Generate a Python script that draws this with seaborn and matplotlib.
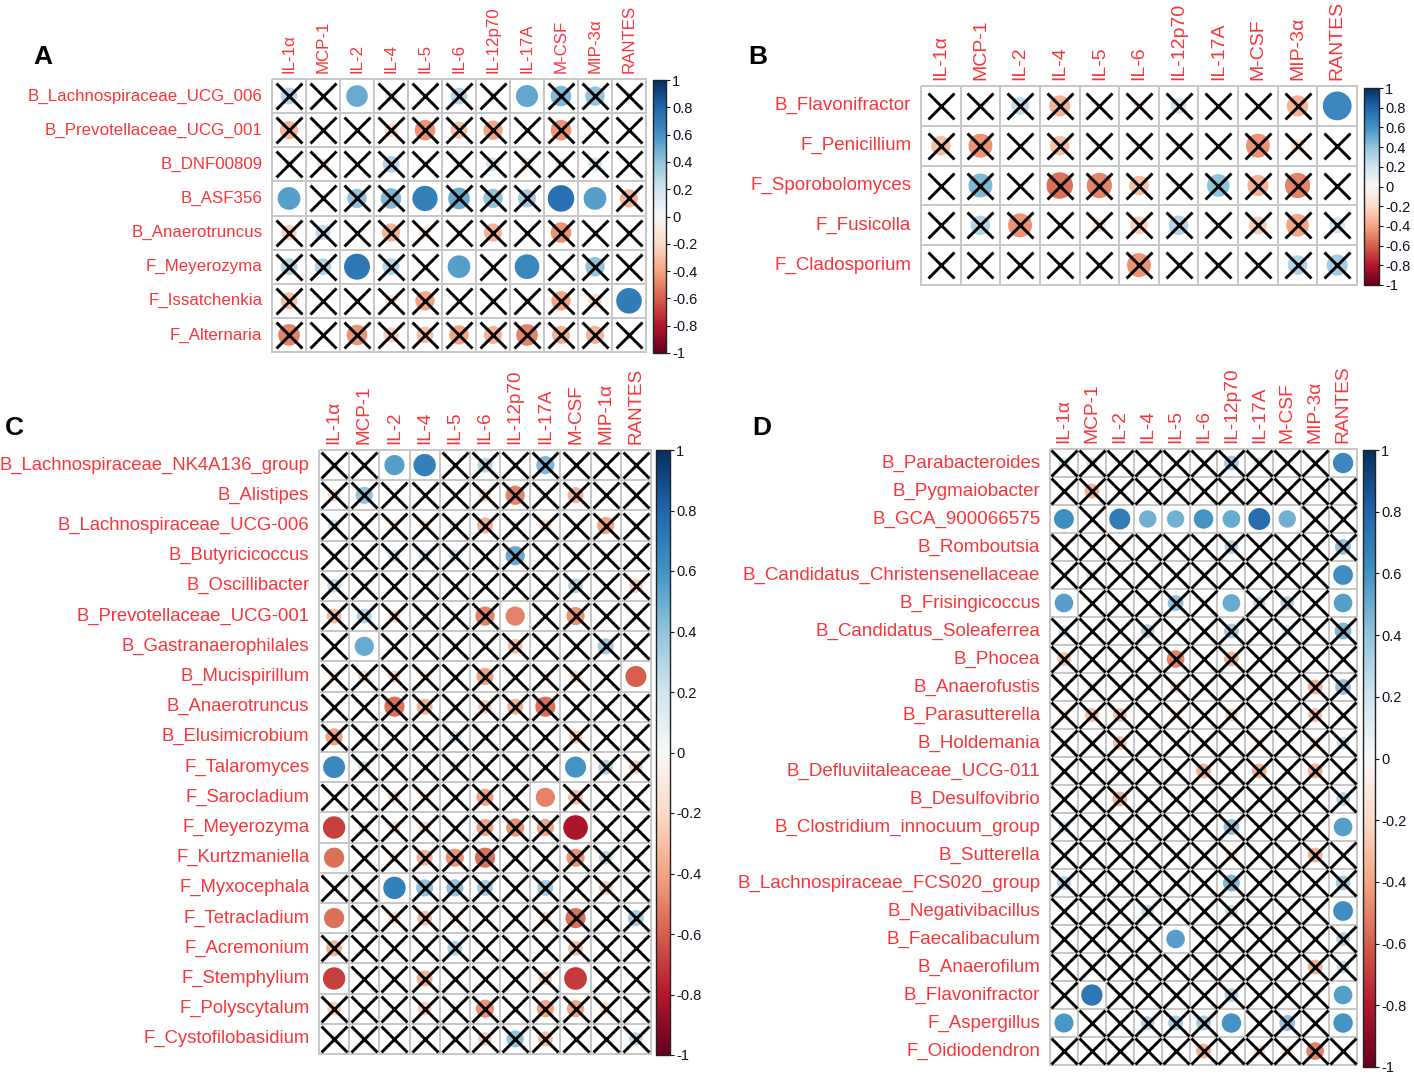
import numpy as np
import pandas as pd
import matplotlib
matplotlib.use("Agg")
import matplotlib.pyplot as plt
import seaborn as sns
from matplotlib.colors import ListedColormap, Normalize
from matplotlib.patches import Ellipse
import matplotlib.colorbar as mcolorbar

# ---------------- DATA ----------------
cytokines_a = ["IL-1α", "MCP-1", "IL-2", "IL-4", "IL-5", "IL-6", "IL-12p70", "IL-17A", "M-CSF", "MIP-3α", "RANTES"]
cytokines_c = ["IL-1α", "MCP-1", "IL-2", "IL-4", "IL-5", "IL-6", "IL-12p70", "IL-17A", "M-CSF", "MIP-1α", "RANTES"]

rows_a = ["B_Lachnospiraceae_UCG_006", "B_Prevotellaceae_UCG_001", "B_DNF00809", "B_ASF356",
          "B_Anaerotruncus", "F_Meyerozyma", "F_Issatchenkia", "F_Alternaria"]
vals_a = [
    [0.30, 0.00, 0.50, 0.15, 0.00, 0.30, 0.10, 0.52, 0.45, 0.40, -0.10],
    [-0.35, 0.10, 0.00, -0.20, -0.45, -0.30, -0.40, 0.00, -0.45, 0.00, 0.00],
    [0.10, -0.15, 0.00, 0.30, 0.00, 0.10, 0.20, -0.15, 0.15, 0.20, 0.00],
    [0.55, 0.00, 0.40, 0.45, 0.68, 0.50, 0.40, 0.35, 0.75, 0.55, -0.35],
    [-0.25, 0.25, 0.00, -0.35, -0.15, 0.00, -0.35, 0.00, -0.45, 0.00, 0.10],
    [0.30, 0.30, 0.72, 0.30, 0.00, 0.55, 0.00, 0.65, 0.00, 0.40, 0.00],
    [-0.30, 0.00, 0.00, -0.15, -0.40, 0.00, -0.10, -0.10, -0.40, -0.20, 0.70],
    [-0.50, 0.00, -0.45, -0.25, -0.30, -0.40, -0.35, -0.50, -0.35, -0.35, 0.10],
]
sig_a = [(0, 2), (0, 7), (3, 0), (3, 4), (3, 8), (3, 9), (5, 2), (5, 5), (5, 7), (6, 10)]

rows_b = ["B_Flavonifractor", "F_Penicillium", "F_Sporobolomyces", "F_Fusicolla", "F_Cladosporium"]
vals_b = [
    [0.00, 0.10, 0.25, -0.35, 0.00, -0.10, 0.20, 0.00, 0.00, -0.35, 0.65],
    [-0.30, -0.45, 0.00, -0.30, 0.00, 0.00, 0.05, 0.00, -0.45, -0.15, 0.00],
    [0.00, 0.45, 0.00, -0.55, -0.50, -0.30, 0.00, 0.40, -0.35, -0.50, 0.00],
    [0.00, 0.30, -0.45, 0.00, -0.15, -0.25, 0.30, 0.00, -0.25, -0.40, 0.20],
    [0.05, 0.00, 0.00, 0.00, 0.00, -0.45, 0.00, -0.05, 0.00, 0.30, 0.35],
]
sig_b = [(0, 10)]

rows_c = ["B_Lachnospiraceae_NK4A136_group", "B_Alistipes", "B_Lachnospiraceae_UCG-006", "B_Butyricicoccus",
          "B_Oscillibacter", "B_Prevotellaceae_UCG-001", "B_Gastranaerophilales", "B_Mucispirillum",
          "B_Anaerotruncus", "B_Elusimicrobium", "F_Talaromyces", "F_Sarocladium", "F_Meyerozyma",
          "F_Kurtzmaniella", "F_Myxocephala", "F_Tetracladium", "F_Acremonium", "F_Stemphylium",
          "F_Polyscytalum", "F_Cystofilobasidium"]
vals_c = [
    [-0.15, 0.00, 0.55, 0.68, 0.00, 0.30, 0.00, 0.45, 0.00, 0.00, 0.00],
    [-0.20, 0.40, 0.00, -0.05, 0.00, -0.20, -0.50, -0.15, -0.35, 0.00, 0.00],
    [0.20, 0.00, -0.15, -0.15, 0.15, -0.35, -0.10, -0.20, 0.00, -0.40, 0.00],
    [0.00, 0.00, 0.20, 0.20, 0.20, 0.00, 0.50, 0.00, 0.10, 0.00, 0.00],
    [0.25, 0.10, 0.00, 0.00, 0.00, 0.00, 0.00, 0.00, 0.30, 0.05, -0.25],
    [-0.30, 0.30, -0.20, -0.10, 0.00, -0.50, -0.50, 0.00, -0.45, 0.00, -0.10],
    [0.00, 0.50, 0.00, 0.00, 0.00, -0.10, -0.30, 0.00, 0.00, 0.35, 0.00],
    [-0.15, -0.20, -0.20, -0.15, 0.00, -0.40, 0.00, -0.15, -0.20, 0.00, -0.60],
    [0.00, 0.00, -0.55, -0.35, 0.00, -0.25, -0.35, -0.55, 0.00, 0.00, 0.00],
    [-0.40, 0.10, 0.00, 0.00, 0.20, -0.10, 0.00, 0.00, -0.25, 0.00, -0.05],
    [0.65, 0.20, 0.00, 0.00, 0.15, 0.00, 0.00, 0.00, 0.60, 0.30, -0.25],
    [-0.05, 0.00, -0.20, -0.15, 0.00, -0.40, 0.00, -0.50, -0.30, 0.00, 0.00],
    [-0.68, 0.15, -0.20, -0.20, 0.00, -0.40, -0.45, -0.40, -0.82, 0.00, 0.00],
    [-0.55, 0.00, -0.15, -0.35, -0.45, -0.55, -0.10, -0.10, -0.45, 0.25, 0.00],
    [0.00, 0.15, 0.68, 0.40, 0.40, 0.35, 0.00, 0.35, 0.00, -0.25, 0.00],
    [-0.55, 0.10, -0.20, -0.30, -0.15, 0.00, 0.00, -0.20, -0.55, 0.00, 0.35],
    [-0.35, 0.00, 0.00, 0.00, 0.30, 0.00, 0.00, 0.00, -0.30, 0.00, 0.00],
    [-0.68, 0.00, -0.10, -0.35, 0.00, 0.00, 0.00, -0.25, -0.70, 0.00, 0.00],
    [-0.25, 0.00, 0.00, -0.25, 0.15, -0.45, 0.00, -0.40, -0.40, -0.20, 0.00],
    [-0.10, 0.15, 0.00, 0.00, 0.10, -0.25, 0.40, -0.30, -0.10, 0.00, 0.25],
]
sig_c = [(0, 2), (0, 3), (5, 6), (6, 1), (7, 10), (10, 0), (10, 8), (11, 7), (12, 0), (12, 8),
         (13, 0), (14, 2), (15, 0), (17, 0), (17, 8)]

rows_d = ["B_Parabacteroides", "B_Pygmaiobacter", "B_GCA_900066575", "B_Romboutsia",
          "B_Candidatus_Christensenellaceae", "B_Frisingicoccus", "B_Candidatus_Soleaferrea", "B_Phocea",
          "B_Anaerofustis", "B_Parasutterella", "B_Holdemania", "B_Defluviitaleaceae_UCG-011",
          "B_Desulfovibrio", "B_Clostridium_innocuum_group", "B_Sutterella", "B_Lachnospiraceae_FCS020_group",
          "B_Negativibacillus", "B_Faecalibaculum", "B_Anaerofilum", "B_Flavonifractor", "F_Aspergillus",
          "F_Oidiodendron"]
vals_d = [
    [0.20, 0.20, 0.00, 0.00, 0.00, 0.00, 0.35, 0.20, 0.00, 0.00, 0.65],
    [0.00, -0.35, 0.00, 0.00, 0.00, -0.10, 0.00, 0.00, 0.00, 0.00, 0.00],
    [0.62, -0.05, 0.70, 0.48, 0.48, 0.60, 0.50, 0.76, 0.48, 0.10, 0.10],
    [0.00, 0.00, 0.00, 0.00, 0.00, 0.00, 0.30, 0.00, 0.00, 0.00, 0.40],
    [0.00, 0.20, 0.00, 0.00, 0.00, -0.10, 0.00, 0.00, -0.10, 0.00, 0.62],
    [0.55, 0.00, 0.00, 0.00, 0.40, 0.10, 0.50, 0.25, 0.30, -0.05, 0.55],
    [0.20, 0.00, 0.00, 0.30, 0.00, 0.00, 0.35, 0.00, 0.20, 0.00, 0.45],
    [-0.30, 0.00, 0.00, 0.00, -0.50, 0.00, -0.35, 0.00, -0.10, -0.05, 0.00],
    [0.00, 0.15, 0.00, 0.00, -0.20, 0.00, 0.00, 0.00, 0.00, -0.35, 0.40],
    [-0.15, -0.30, -0.30, 0.00, -0.15, 0.00, -0.25, 0.00, 0.00, -0.30, 0.00],
    [-0.10, 0.10, -0.30, 0.00, 0.00, -0.10, 0.00, -0.15, 0.00, -0.20, 0.25],
    [0.00, 0.00, -0.15, 0.00, 0.00, -0.35, 0.00, -0.35, 0.00, -0.35, 0.00],
    [0.00, 0.00, -0.35, -0.10, 0.00, 0.00, 0.00, 0.00, 0.00, 0.00, 0.30],
    [0.20, 0.00, 0.00, 0.00, 0.00, 0.00, 0.40, 0.00, 0.00, 0.00, 0.55],
    [0.00, 0.00, -0.05, 0.00, 0.00, 0.00, -0.20, 0.00, 0.00, -0.35, 0.00],
    [0.30, 0.00, 0.10, 0.00, 0.00, 0.00, 0.45, 0.00, 0.00, 0.00, 0.35],
    [0.00, 0.05, 0.00, 0.25, 0.00, 0.00, 0.25, 0.00, 0.00, 0.00, 0.62],
    [0.00, 0.00, 0.00, 0.05, 0.55, 0.00, 0.00, 0.00, 0.00, -0.10, 0.30],
    [0.00, 0.10, 0.00, 0.10, 0.00, 0.00, 0.00, 0.00, 0.00, -0.35, 0.25],
    [0.00, 0.72, 0.00, 0.00, 0.00, 0.00, 0.30, 0.00, 0.00, -0.15, 0.55],
    [0.58, 0.00, 0.05, 0.30, 0.35, 0.35, 0.60, 0.05, 0.40, 0.05, 0.60],
    [-0.10, 0.00, -0.05, 0.00, 0.00, -0.35, -0.05, -0.20, -0.20, -0.50, -0.10],
]
sig_d = [(0, 10), (2, 0), (2, 2), (2, 3), (2, 4), (2, 5), (2, 6), (2, 7), (2, 8), (4, 10),
         (5, 0), (5, 6), (5, 10), (13, 10), (16, 10), (17, 4), (19, 1), (19, 10), (20, 0), (20, 6), (20, 10)]

cbar_ticks = [-1, -0.8, -0.6, -0.4, -0.2, 0, 0.2, 0.4, 0.6, 0.8, 1]
cbar_labels = ["-1", "-0.8", "-0.6", "-0.4", "-0.2", "0", "0.2", "0.4", "0.6", "0.8", "1"]

# ---------------- STYLE ----------------
sns.set_theme(style="white")
plt.rcParams["font.family"] = ["Liberation Sans", "DejaVu Sans"]

W, H = 1414, 1075
RED = "#F8353A"
GRID = "#C8C8C8"
cmap = plt.get_cmap("RdBu")
norm = Normalize(-1, 1)

fig = plt.figure(figsize=(W / 100, H / 100), dpi=100)


def px_axes(l, t, r, b):
    return fig.add_axes([l / W, 1 - b / H, (r - l) / W, (b - t) / H])


def draw_panel(box, cbox, rows, cols, vals, sig, letter, lxy, rfs, cfs):
    l, t, r, b = box
    ax = px_axes(l, t, r, b)
    nr, nc = len(rows), len(cols)
    cw, ch = (r - l) / nc, (b - t) / nr
    df = pd.DataFrame(np.zeros((nr, nc)), index=rows, columns=cols)
    sns.heatmap(df, cmap=ListedColormap(["white"]), cbar=False, linewidths=1.2,
                linecolor=GRID, ax=ax, xticklabels=cols, yticklabels=rows)
    ax.collections[0].set_clip_on(False)
    ax.xaxis.tick_top()
    ax.set_xticks(np.arange(nc) + 0.5)
    ax.set_xticklabels(cols, rotation=90, color=RED, fontsize=cfs, va="bottom")
    ax.set_yticks(np.arange(nr) + 0.5)
    ax.set_yticklabels(rows, rotation=0, color=RED, fontsize=rfs)
    ax.tick_params(axis="both", length=0, pad=4)
    ax.tick_params(axis="y", pad=7)
    ax.set_xlabel("")
    ax.set_ylabel("")
    sigset = set(sig)
    rad_px = min(cw, ch)
    for i in range(nr):
        for j in range(nc):
            v = vals[i][j]
            if abs(v) > 0:
                d = 0.9 * np.sqrt(abs(v)) * rad_px
                ax.add_patch(Ellipse((j + 0.5, i + 0.5), d / cw, d / ch,
                                     facecolor=cmap(norm(v)), edgecolor="none", zorder=3))
    xs = [j + 0.5 for i in range(nr) for j in range(nc) if (i, j) not in sigset]
    ys = [i + 0.5 for i in range(nr) for j in range(nc) if (i, j) not in sigset]
    ax.plot(xs, ys, linestyle="none", marker="x", ms=18.5, mew=2.1, color="black",
            zorder=4, clip_on=False)
    for s in ax.spines.values():
        s.set_visible(False)

    cl, ct, cr, cb = cbox
    cax = px_axes(cl, ct, cr, cb)
    cb_ = mcolorbar.ColorbarBase(cax, cmap=cmap, norm=norm, ticks=cbar_ticks)
    cb_.ax.set_yticklabels(cbar_labels)
    cb_.outline.set_linewidth(1.0)
    cb_.outline.set_edgecolor("#222222")
    cax.tick_params(axis="y", length=3, width=0.8, labelsize=10.5, pad=1.5, colors="#111122")

    fig.text(lxy[0] / W, 1 - lxy[1] / H, letter, fontsize=19, fontweight="bold",
             ha="center", va="center", color="black")


draw_panel((272, 79, 646, 352), (653, 80, 666, 353), rows_a, cytokines_a, vals_a, sig_a, "A", (43, 57), 12.2, 12.2)
draw_panel((921, 86, 1357, 285), (1364, 88, 1379, 285), rows_b, cytokines_a, vals_b, sig_b, "B", (758, 57), 13.5, 14)
draw_panel((319, 450, 651, 1054), (656, 450, 670, 1055), rows_c, cytokines_c, vals_c, sig_c, "C", (14, 428), 13.3, 13.6)
draw_panel((1050, 449, 1357, 1065), (1363, 450, 1375, 1067), rows_d, cytokines_a, vals_d, sig_d, "D", (762, 428), 13.5, 13.8)

fig.savefig("out.png", dpi=100, facecolor="white")
